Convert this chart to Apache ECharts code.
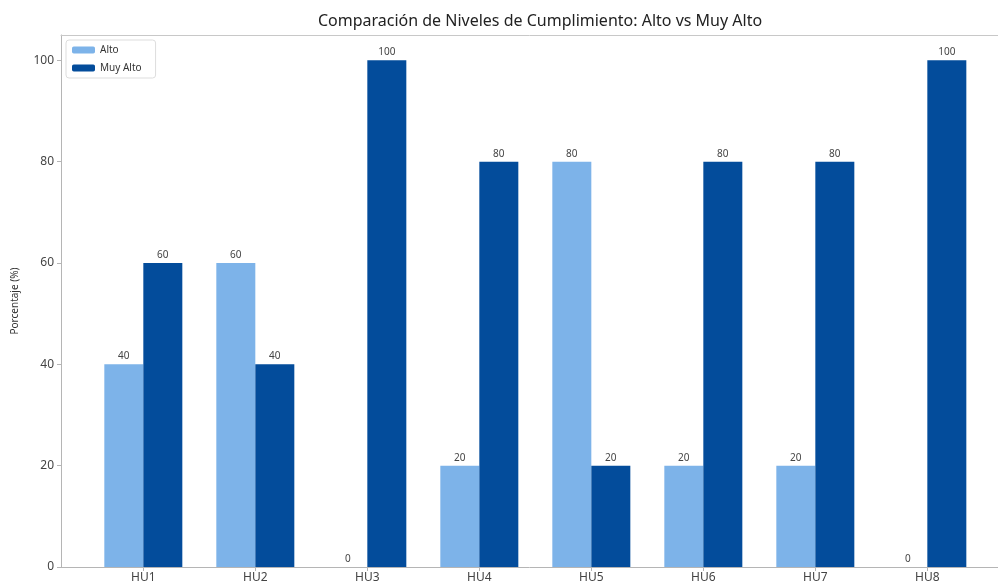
<!DOCTYPE html>
<html>
<head>
<meta charset="utf-8">
<script src="https://cdn.jsdelivr.net/npm/echarts@6/dist/echarts.min.js"></script>
<style>
  html, body { margin: 0; padding: 0; background: #fff; }
  #chart { width: 998px; height: 587px; }
</style>
</head>
<body>
<div id="chart"></div>
<script>
// datos
var categorias = ["HU1", "HU2", "HU3", "HU4", "HU5", "HU6", "HU7", "HU8"];
var alto = [40, 60, 0, 20, 80, 20, 20, 0];
var muyAlto = [60, 40, 100, 80, 20, 80, 80, 100];
var yTicks = [0, 20, 40, 60, 80, 100];

var posiciones = categorias.map(function (c, i) { return i; });

var myChart = echarts.init(document.getElementById("chart"));

var etiqueta = {
  show: true,
  position: "top",
  distance: 3,
  fontSize: 10,
  color: "#444",
  fontFamily: "Noto Sans"
};

// el eje x se corta en el borde derecho, como en la figura original
var xMin = -0.735;
var xMax = 7.631;

var option = {
  animation: false,
  textStyle: { fontFamily: "Noto Sans" },
  title: {
    text: "Comparación de Niveles de Cumplimiento: Alto vs Muy Alto",
    left: 535,
    textAlign: "center",
    top: 8,
    textStyle: { fontSize: 16, fontWeight: "normal", color: "#222" }
  },
  legend: {
    orient: "vertical",
    left: 66,
    top: 40,
    padding: [5, 14, 5, 6],
    itemWidth: 23,
    itemHeight: 7,
    itemGap: 8,
    borderColor: "#ddd",
    borderWidth: 1,
    borderRadius: 3,
    textStyle: { fontSize: 10, color: "#333" },
    data: ["Alto", "Muy Alto"]
  },
  grid: {
    left: 61,
    right: 0,
    top: 35,
    bottom: 20
  },
  xAxis: [
    {
      type: "value",
      min: xMin,
      max: xMax,
      axisLine: { show: true, onZero: false, lineStyle: { color: "#b5b5b5" } },
      axisTick: { show: true, length: 4, lineStyle: { color: "#b5b5b5" }, customValues: posiciones },
      axisLabel: {
        customValues: posiciones,
        fontSize: 12,
        color: "#444",
        margin: 5,
        formatter: function (v) { return categorias[Math.round(v)]; }
      },
      splitLine: { show: false }
    },
    {
      type: "value",
      position: "top",
      min: xMin,
      max: xMax,
      axisLine: { show: true, onZero: false, lineStyle: { color: "#c8c8c8" } },
      axisTick: { show: false },
      axisLabel: { show: false },
      splitLine: { show: false }
    }
  ],
  yAxis: {
    type: "value",
    min: 0,
    max: 105,
    name: "Porcentaje (%)",
    nameLocation: "middle",
    nameGap: 41,
    nameTextStyle: { fontSize: 10, color: "#333" },
    axisLine: { show: true, onZero: false, lineStyle: { color: "#b5b5b5" } },
    axisTick: { show: true, length: 4, lineStyle: { color: "#b5b5b5" }, customValues: yTicks },
    axisLabel: { customValues: yTicks, fontSize: 12, color: "#444", margin: 7 },
    splitLine: { show: false }
  },
  series: [
    {
      name: "Alto",
      type: "bar",
      barWidth: 39,
      barGap: "0%",
      itemStyle: { color: "#7db3e9" },
      label: etiqueta,
      data: alto.map(function (v, i) { return [posiciones[i], v]; })
    },
    {
      name: "Muy Alto",
      type: "bar",
      barWidth: 39,
      barGap: "0%",
      itemStyle: { color: "#034c9b" },
      label: etiqueta,
      data: muyAlto.map(function (v, i) { return [posiciones[i], v]; })
    }
  ]
};

myChart.setOption(option);
</script>
</body>
</html>
